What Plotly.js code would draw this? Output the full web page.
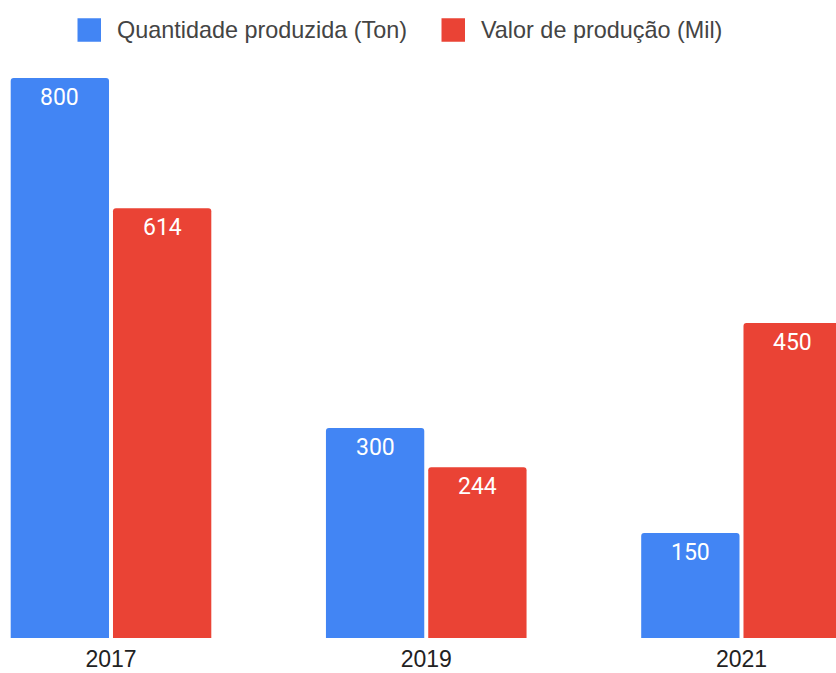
<!DOCTYPE html>
<html>
<head>
<meta charset="utf-8">
<script src="https://cdn.plot.ly/plotly-3.0.1.min.js"></script>
<style>
html,body{margin:0;padding:0;background:#fff;}
#chart{width:836px;height:673px;}
</style>
</head>
<body>
<div id="chart"></div>
<script>
const years = ["2017", "2019", "2021"];
const quantidade = [800, 300, 150];
const valor = [614, 244, 450];
const seriesNames = ["Quantidade produzida (Ton)", "Valor de produção (Mil)"];
const seriesColors = ["#4285F4", "#EA4335"];

const W = 836, H = 673, plotH = 638;
const bargap = 0.351, bargroupgap = 0.039;
const slot = (1 - bargap) / 2;

const labelFont = {family: "Roboto, Arial, sans-serif", size: 23, color: "#ffffff"};
const textFont = "Arial, 'Liberation Sans', sans-serif";

const seriesValues = [quantidade, valor];

const traces = seriesValues.map((vals, i) => ({
  type: "bar",
  name: seriesNames[i],
  x: years,
  y: vals,
  marker: {color: seriesColors[i], cornerradius: 3, line: {width: 0}},
  hoverinfo: "none",
  showlegend: false
}));

// value labels inside the top of each bar
const valueLabels = [];
seriesValues.forEach((vals, i) => {
  vals.forEach((v, j) => {
    valueLabels.push({
      xref: "x", yref: "y",
      x: j + (i - 0.5) * slot, y: v,
      xanchor: "center", yanchor: "top", yshift: -4,
      text: String(v), showarrow: false,
      font: labelFont
    });
  });
});

// custom legend (large square swatches)
const sq = 23.5;
const legendItems = [
  {sx: 77.5, tx: 115},
  {sx: 441.5, tx: 478.5}
];
const shapes = legendItems.map((it, i) => ({
  type: "rect", xref: "paper", yref: "paper",
  x0: it.sx / W, x1: (it.sx + sq) / W,
  y0: 1 - (30 + sq / 2) / plotH, y1: 1 - (30 - sq / 2) / plotH,
  fillcolor: seriesColors[i], line: {width: 0}
}));
const legendLabels = legendItems.map((it, i) => ({
  xref: "paper", yref: "paper",
  x: it.tx / W, y: 1 - 30 / plotH,
  xanchor: "left", yanchor: "middle",
  text: seriesNames[i], showarrow: false,
  font: {family: textFont, size: 23.4, color: "#444444"}
}));

const layout = {
  width: W, height: H,
  margin: {l: 0, r: 0, t: 0, b: H - plotH, pad: 0},
  paper_bgcolor: "#ffffff", plot_bgcolor: "#ffffff",
  barmode: "group",
  bargap: bargap,
  bargroupgap: bargroupgap,
  showlegend: false,
  xaxis: {
    type: "category",
    range: [-111 / 315.25, (W - 111) / 315.25],
    showgrid: false, zeroline: false, showline: false,
    ticks: "", automargin: false,
    ticklabelstandoff: 5,
    tickfont: {family: textFont, size: 23, color: "#222222"},
    fixedrange: true
  },
  yaxis: {
    range: [0, plotH / 0.7],
    showgrid: false, zeroline: false, showline: false,
    showticklabels: false, ticks: "", automargin: false,
    fixedrange: true
  },
  shapes: shapes,
  annotations: valueLabels.concat(legendLabels)
};

Plotly.newPlot("chart", traces, layout, {displayModeBar: false, staticPlot: true});
</script>
</body>
</html>
